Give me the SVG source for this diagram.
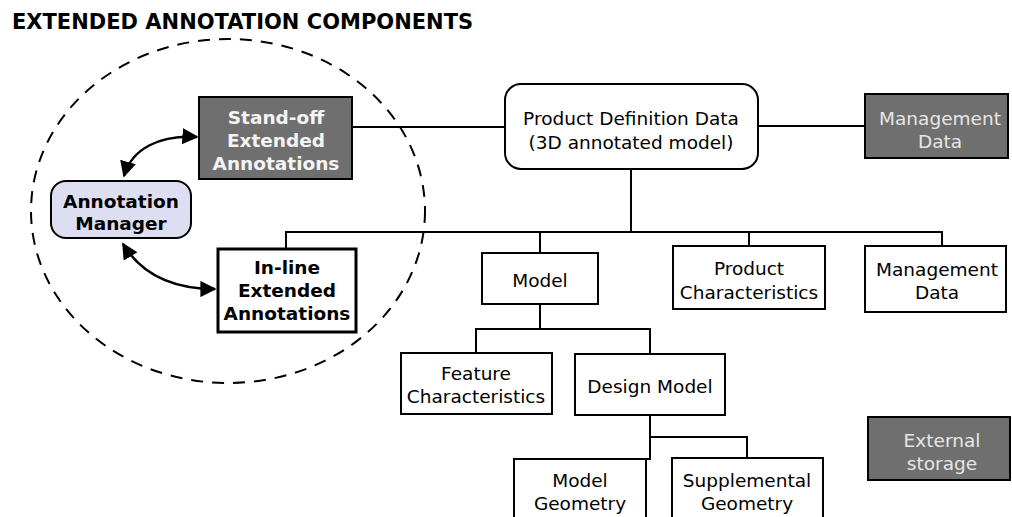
<svg xmlns="http://www.w3.org/2000/svg" width="1012" height="517" viewBox="0 0 1012 517">
<style>
text{font-family:"DejaVu Sans","Liberation Sans",sans-serif;font-size:18.5px;text-anchor:middle;dominant-baseline:central}
.b{font-weight:bold}
.w{fill:#e6e6e6}
.box{fill:#fff;stroke:#000;stroke-width:2}
.gray{fill:#6f6f6f;stroke:#000;stroke-width:2}
.ln{fill:none;stroke:#000;stroke-width:2}
</style>
<defs>
<marker id="ah" viewBox="0 0 10 10" refX="9" refY="5" markerWidth="6.5" markerHeight="6.5" orient="auto-start-reverse" markerUnits="strokeWidth">
<path d="M0,0 L10,5 L0,10 z" fill="#000"/>
</marker>
</defs>
<rect width="1012" height="517" fill="#fff"/>
<text x="12" y="22" class="b" style="text-anchor:start;font-size:21px">EXTENDED ANNOTATION COMPONENTS</text>
<ellipse cx="228" cy="211" rx="197" ry="172" fill="none" stroke="#000" stroke-width="2" stroke-dasharray="12 9"/>
<g id="connectors">
<path class="ln" d="M352,127 H505"/>
<path class="ln" d="M758,126 H865"/>
<path class="ln" d="M631,169 V232"/>
<path class="ln" d="M286,248 V232 H942 V246"/>
<path class="ln" d="M540,232 V253"/>
<path class="ln" d="M749,232 V246"/>
<path class="ln" d="M540,304 V329"/>
<path class="ln" d="M476,353 V329 H650 V354"/>
<path class="ln" d="M650,415 V459 H640"/>
<path class="ln" d="M650,437 H747 V458"/>
<path fill="none" stroke="#000" stroke-width="2.5" marker-start="url(#ah)" marker-end="url(#ah)" d="M124,176 C132,148 160,135 197,137"/>
<path fill="none" stroke="#000" stroke-width="2.5" marker-start="url(#ah)" marker-end="url(#ah)" d="M123,244 C140,272 170,289 215,289"/>
</g>
<g id="standoff">
<rect class="gray" x="199" y="97" width="153" height="82"/>
<text x="276" y="117" class="b" fill="#f4f4f4">Stand-off</text>
<text x="276" y="140" class="b" fill="#f4f4f4">Extended</text>
<text x="276" y="163" class="b" fill="#f4f4f4">Annotations</text>
</g>
<g id="manager">
<rect x="51" y="181" width="140" height="57" rx="15" fill="#dedef2" stroke="#000" stroke-width="2"/>
<text x="121" y="201" class="b">Annotation</text>
<text x="121" y="223" class="b">Manager</text>
</g>
<g id="inline">
<rect x="218" y="249" width="138" height="83" fill="#fff" stroke="#000" stroke-width="3"/>
<text x="287" y="267" class="b">In-line</text>
<text x="287" y="290" class="b">Extended</text>
<text x="287" y="313" class="b">Annotations</text>
</g>
<g id="pdd">
<rect class="box" x="505" y="84" width="253" height="85" rx="16"/>
<text x="631" y="118">Product Definition Data</text>
<text x="631" y="142">(3D annotated model)</text>
</g>
<g id="mgmt-top">
<rect class="gray" x="865" y="94" width="143" height="64"/>
<text x="940" y="118" class="w">Management</text>
<text x="940" y="141" class="w">Data</text>
</g>
<g id="model">
<rect class="box" x="482" y="253" width="116" height="51"/>
<text x="540" y="280">Model</text>
</g>
<g id="prodchar">
<rect class="box" x="673" y="246" width="152" height="63"/>
<text x="749" y="268">Product</text>
<text x="749" y="292">Characteristics</text>
</g>
<g id="mgmt">
<rect class="box" x="865" y="246" width="141" height="66"/>
<text x="937" y="269">Management</text>
<text x="937" y="292">Data</text>
</g>
<g id="feature">
<rect class="box" x="401" y="353" width="151" height="61"/>
<text x="476" y="373">Feature</text>
<text x="476" y="396">Characteristics</text>
</g>
<g id="design">
<rect class="box" x="575" y="354" width="150" height="61"/>
<text x="650" y="386">Design Model</text>
</g>
<g id="modelgeom">
<rect class="box" x="514" y="459" width="132" height="70"/>
<text x="580" y="480">Model</text>
<text x="580" y="503">Geometry</text>
</g>
<g id="supp">
<rect class="box" x="672" y="458" width="151" height="70"/>
<text x="747" y="480">Supplemental</text>
<text x="747" y="503">Geometry</text>
</g>
<g id="external">
<rect class="gray" x="868" y="417" width="142" height="63"/>
<text x="942" y="440" class="w">External</text>
<text x="942" y="463" class="w">storage</text>
</g>
</svg>
